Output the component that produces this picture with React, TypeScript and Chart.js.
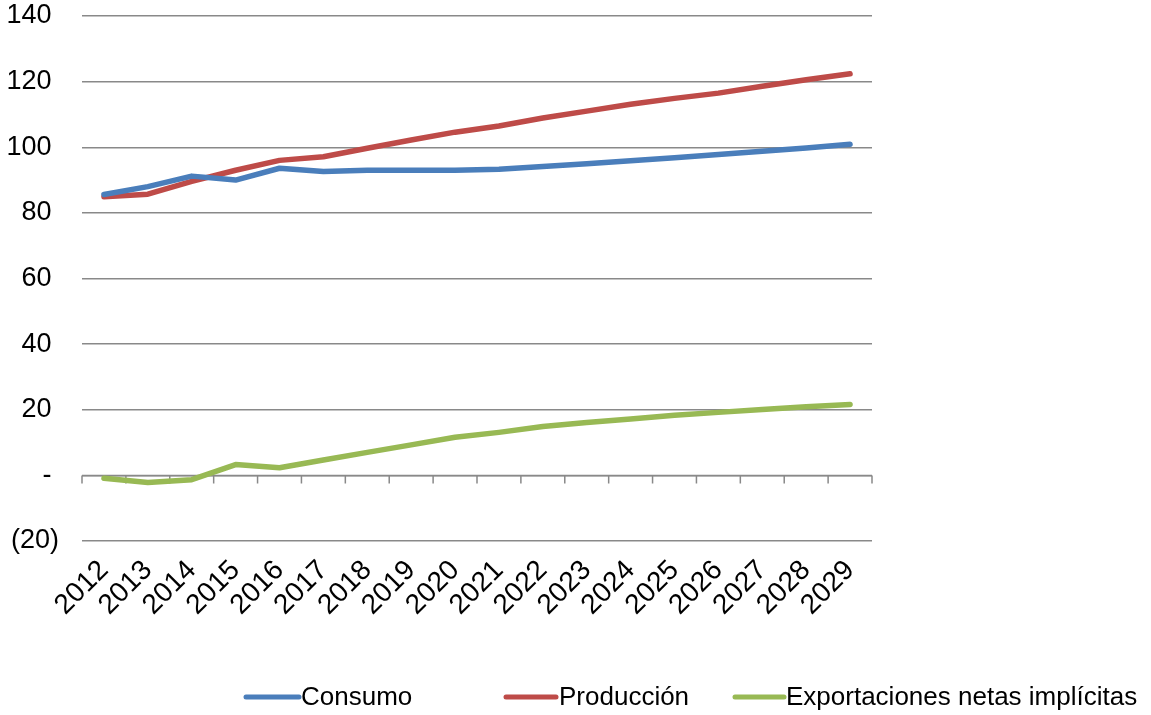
import React, { useEffect, useRef } from "react";
import { Chart, registerables } from "chart.js";

Chart.register(...registerables);

const years = ["2012","2013","2014","2015","2016","2017","2018","2019","2020","2021","2022","2023","2024","2025","2026","2027","2028","2029"];
const consumo = [85.6, 88.0, 91.2, 90.0, 93.6, 92.6, 93.0, 93.0, 93.0, 93.3, 94.1, 95.0, 95.9, 96.8, 97.8, 98.8, 99.8, 100.9];
const produccion = [84.9, 85.7, 89.6, 93.0, 96.0, 97.1, 99.7, 102.2, 104.6, 106.5, 108.9, 111.0, 113.1, 114.9, 116.5, 118.6, 120.6, 122.4];
const exportaciones = [-0.9, -2.2, -1.3, 3.3, 2.3, 4.7, 7.0, 9.3, 11.6, 13.1, 14.9, 16.1, 17.2, 18.3, 19.2, 20.1, 20.9, 21.6];
const yTicks = { min: -20, max: 140, step: 20 };

const seriesNames = ["Consumo", "Producción", "Exportaciones netas implícitas"];
const seriesColors = ["#4A7EBB", "#BE4B48", "#98B954"];
const gridColor = "#898989";
const FONT = "'Liberation Sans', Arial, sans-serif";

const zeroAxisPlugin = {
  id: "zeroAxis",
  beforeDatasetsDraw(chart: any) {
    const ctx = chart.ctx;
    const x = chart.scales.x;
    const y = chart.scales.y;
    const y0 = y.getPixelForValue(0);
    const n = chart.data.labels.length;
    const step = (x.right - x.left) / n;
    ctx.save();
    ctx.strokeStyle = gridColor;
    ctx.lineWidth = 1.5;
    ctx.beginPath();
    ctx.moveTo(x.left, y0);
    ctx.lineTo(x.right, y0);
    for (let i = 0; i <= n; i++) {
      const px = x.left + i * step;
      ctx.moveTo(px, y0);
      ctx.lineTo(px, y0 + 8);
    }
    ctx.stroke();
    ctx.restore();
  },
};

const legendPlugin = {
  id: "customLegend",
  afterDraw(chart: any) {
    const ctx = chart.ctx;
    const items = [
      { x0: 246, x1: 299, tx: 301 },
      { x0: 506, x1: 556, tx: 559 },
      { x0: 735, x1: 784, tx: 786 },
    ];
    const y = 697;
    ctx.save();
    ctx.font = `26px ${FONT}`;
    ctx.textBaseline = "middle";
    ctx.textAlign = "left";
    items.forEach((it, i) => {
      ctx.strokeStyle = seriesColors[i];
      ctx.lineWidth = 5;
      ctx.lineCap = "round";
      ctx.beginPath();
      ctx.moveTo(it.x0, y);
      ctx.lineTo(it.x1, y);
      ctx.stroke();
      ctx.fillStyle = "#000";
      ctx.fillText(seriesNames[i], it.tx, y + 1);
    });
    ctx.restore();
  },
};

export default function App() {
  const ref = useRef<HTMLCanvasElement>(null);
  useEffect(() => {
    if (!ref.current) return;
    const data = [consumo, produccion, exportaciones];
    const chart = new Chart(ref.current, {
      type: "line",
      data: {
        labels: years,
        datasets: data.map((d, i) => ({
          label: seriesNames[i],
          data: d,
          borderColor: seriesColors[i],
          backgroundColor: seriesColors[i],
          borderWidth: 5.5,
          pointRadius: 0,
          tension: 0,
          borderCapStyle: "round" as const,
          borderJoinStyle: "round" as const,
        })),
      },
      options: {
        animation: false,
        responsive: true,
        maintainAspectRatio: false,
        layout: { padding: { top: 16, right: 279, left: 0, bottom: 0 } },
        plugins: { legend: { display: false }, tooltip: { enabled: false } },
        scales: {
          x: {
            type: "category",
            offset: true,
            position: "bottom",
            grid: { display: false },
            border: { display: false },
            ticks: {
              color: "#000",
              font: { family: FONT, size: 28 },
              minRotation: 45,
              maxRotation: 45,
              autoSkip: false,
              padding: 5,
            },
            afterFit(scale: any) {
              scale.height = 174;
              scale.paddingLeft = 0;
              scale.paddingRight = 0;
            },
          },
          y: {
            min: yTicks.min,
            max: yTicks.max,
            border: { display: false },
            grid: { color: gridColor, lineWidth: 1.5, drawTicks: false },
            ticks: {
              stepSize: yTicks.step,
              color: "#000",
              padding: 23,
              font: { family: FONT, size: 27 },
              callback: (v: any) => (v === 0 ? "- " : v < 0 ? `(${-v})` : `${v} `),
            },
            afterFit(scale: any) {
              scale.width = 82;
              scale.paddingTop = 0;
              scale.paddingBottom = 0;
            },
          },
        },
      },
      plugins: [zeroAxisPlugin, legendPlugin],
    });
    return () => chart.destroy();
  }, []);
  return (
    <div style={{ position: "absolute", left: 0, top: 0, width: 1151, height: 715, background: "#fff" }}>
      <canvas ref={ref} />
    </div>
  );
}
